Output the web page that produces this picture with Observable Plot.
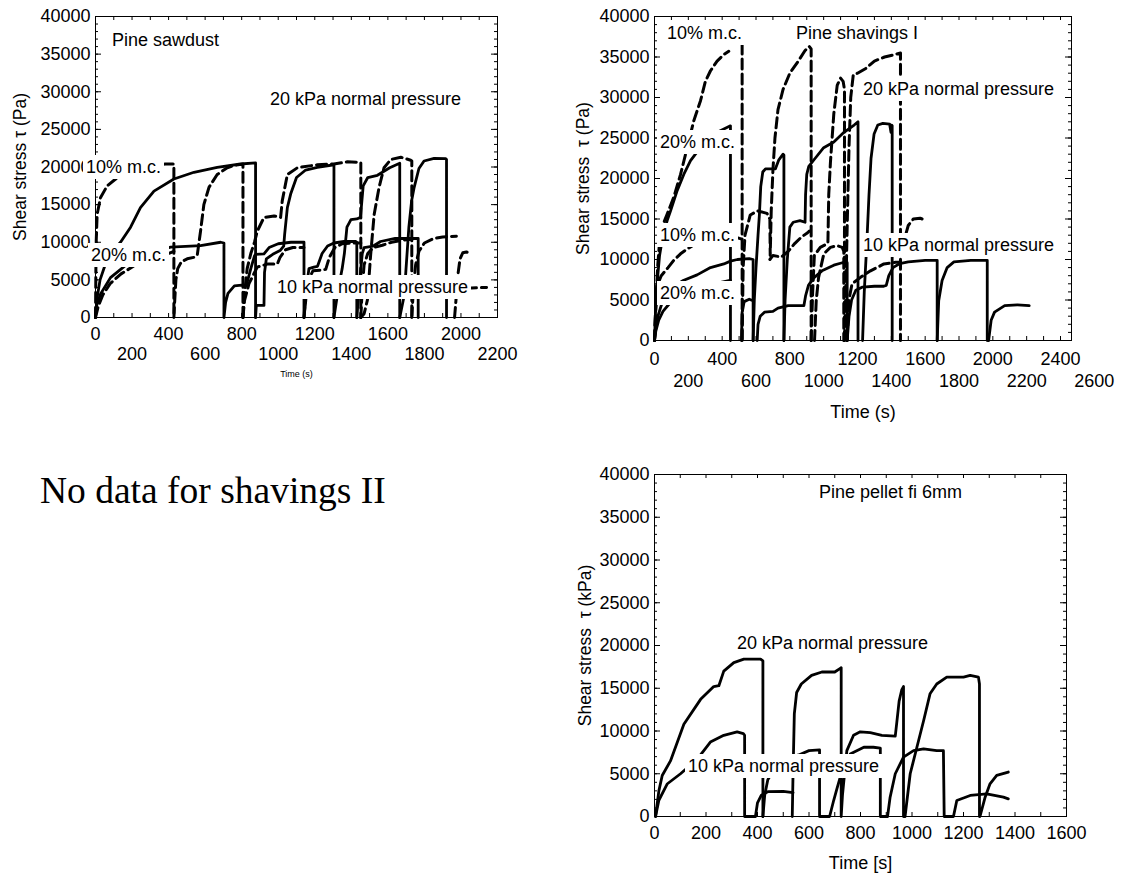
<!DOCTYPE html>
<html><head><meta charset="utf-8">
<script src="https://cdn.jsdelivr.net/npm/d3@7"></script>
<script src="https://cdn.jsdelivr.net/npm/@observablehq/plot@0.6"></script>
<style>
body{margin:0;background:#fff;}
#wrap{position:relative;width:1137px;height:876px;background:#fff;overflow:hidden;font-family:"Liberation Sans",Arial,sans-serif;}
.panel{position:absolute;}
.lab{position:absolute;font-size:18px;line-height:20px;white-space:nowrap;color:#000;transform:translateY(-50%);}
.lab.box{background:#fff;padding:2px 3px;}
.nodata{position:absolute;left:40px;top:490px;transform:translateY(-50%);font-family:"Liberation Serif","Times New Roman",serif;font-size:37.5px;white-space:nowrap;}
</style></head>
<body><div id="wrap"></div>
<script>
// ---------- shared ----------
const yTicks = [0,5000,10000,15000,20000,25000,30000,35000,40000];

// ---------- Panel 1 : Pine sawdust ----------
const p1XRow1 = [0,400,800,1200,1600,2000];
const p1XRow2 = [200,600,1000,1400,1800,2200];
const p1_u1 = [[0,0],[8,2500],[25,5000],[60,7500],[100,9000],[137,10000],[192,12000],[246,14600],[320,16800],[429,18400],[539,19300],[666,19950],[794,20400],[876,20550],[876,0]];
const p1_u2 = [[876,0],[880,1600],[922,1600],[925,6000],[935,7800],[970,8400],[1010,8900],[1030,9500],[1035,11000],[1050,14600],[1068,16400],[1100,18600],[1150,19600],[1214,19950],[1305,20300],[1305,0]];
const p1_u3 = [[1305,0],[1330,4000],[1350,6500],[1362,8500],[1376,12000],[1398,13000],[1430,13100],[1450,13300],[1465,17500],[1490,18600],[1543,18900],[1610,19900],[1665,20500],[1665,0]];
const p1_u4 = [[1665,0],[1690,3000],[1700,6700],[1715,12000],[1730,15500],[1744,17300],[1770,19800],[1798,20800],[1853,21150],[1917,21100],[1921,21000],[1921,0]];
const p1_l1 = [[0,0],[5,1500],[27,3100],[82,5300],[173,7100],[246,8000],[330,8800],[411,9340],[575,9560],[685,10000],[703,9900],[703,0],[712,2000],[725,3200],[760,4200],[800,4300],[825,4200],[850,6500],[870,8200],[876,8400],[922,8450],[950,9300],[1000,9800],[1070,10000],[1141,10000],[1141,0]];
const p1_l2 = [[1141,0],[1150,2000],[1160,5000],[1168,6500],[1195,6700],[1215,6800],[1240,8500],[1270,9500],[1305,9900],[1360,10100],[1425,10100],[1430,10000],[1430,0]];
const p1_l3 = [[1430,0],[1440,3000],[1450,6000],[1460,8500],[1470,9300],[1520,9500],[1560,10100],[1640,10500],[1700,10500],[1766,10500],[1766,0]];
const p1_d1 = [[0,0],[2,6000],[4,10200],[9,13700],[27,15900],[64,17500],[110,18400],[200,19600],[300,20100],[383,20400],[429,20400],[429,0]];
const p1_d2 = [[429,0],[433,2000],[440,5000],[450,6500],[470,7400],[502,7800],[540,8000],[557,8300],[575,11500],[593,15000],[621,17300],[666,19000],[721,19900],[758,20200],[807,20400],[807,0]];
const p1_d3 = [[807,0],[815,3000],[830,6500],[850,8500],[870,10000],[886,11500],[922,13300],[977,13500],[1013,13300],[1022,15500],[1050,19000],[1105,19900],[1214,20300],[1305,20400],[1379,20700],[1452,20600],[1452,0]];
const p1_d4 = [[1452,0],[1470,500],[1488,2300],[1506,8400],[1525,13700],[1552,17300],[1579,19900],[1616,21000],[1671,21300],[1725,20900],[1731,20800],[1731,0]];
const p1_ld1 = [[0,0],[15,1500],[40,3000],[80,4500],[140,5800],[220,7000],[300,7800],[380,8300],[429,8800]];
const p1_ld2 = [[807,0],[815,2200],[840,4500],[885,6700],[940,7100],[995,7100],[1010,8000],[1040,9000],[1080,9300],[1120,9300],[1141,9300]];
const p1_ld3 = [[1141,0],[1150,3000],[1165,5000],[1190,6200],[1230,6300],[1260,6400],[1280,8000],[1310,9300],[1350,9800],[1400,9900],[1452,9900]];
const p1_ld4 = [[1452,0],[1460,4000],[1470,7000],[1490,8500],[1520,9300],[1570,9600],[1620,10000],[1690,10300],[1731,10400]];
const p1_ld5 = [[1731,0],[1740,4000],[1752,7000],[1770,8800],[1800,9900],[1850,10500],[1900,10700],[1975,10800]];
const p1_ld6 = [[1965,0],[1975,3000],[1985,6000],[1995,7800],[2010,8600],[2030,8700],[2054,8500]];
const p1_ld7 = [[2030,3900],[2140,4000]];

// ---------- Panel 2 : Pine shavings I ----------
const p2XRow1 = [0,400,800,1200,1600,2000,2400];
const p2XRow2 = [200,600,1000,1400,1800,2200,2600];
const p2_d1 = [[0,0],[8,5000],[20,9500],[35,13500],[75,15600],[114,17700],[154,20500],[193,23800],[232,27100],[272,29600],[301,32000],[331,33300],[370,34500],[410,35300],[439,35700],[478,null],[518,36600],[518,0]];
const p2_d2 = [[518,0],[524,9000],[535,13000],[566,15500],[610,16000],[665,15700],[682,15000],[684,10500],[690,16000],[700,21000],[712,25000],[730,28500],[760,31000],[800,33000],[850,34500],[890,35800],[915,36300],[926,36000],[926,0]];
const p2_d3 = [[926,0],[935,6000],[945,10500],[980,11500],[1025,12000],[1030,18000],[1040,22000],[1060,28000],[1080,31500],[1100,32400],[1115,32000],[1123,31000],[1123,0]];
const p2_d4 = [[1123,0],[1130,5000],[1140,15000],[1150,24000],[1160,30000],[1175,32800],[1200,33000],[1250,33600],[1300,34500],[1360,35000],[1420,35300],[1454,35500],[1454,0]];
const p2_d5 = [[1465,11500],[1484,13000],[1500,14200],[1530,15000],[1570,15100],[1582,15000]];
const p2_ld1 = [[0,0],[10,5000],[20,7000],[40,8000],[80,9000],[114,9900],[154,10700],[193,11300],[232,11800],[330,12500],[440,13000],[518,12500]];
const p2_ld2 = [[682,10000],[700,10500],[750,10300],[790,11000],[830,12000],[870,12800],[905,13300],[915,13500]];
const p2_ld3 = [[946,0],[956,4900],[970,7800],[1001,10700],[1040,11500],[1080,11700],[1110,11500],[1119,11000],[1119,0]];
const p2_ld4 = [[1139,0],[1148,4900],[1168,7000],[1218,7800],[1277,8600],[1356,9450],[1425,9650],[1454,9650]];
const p2_s1 = [[0,0],[5,3000],[15,7000],[30,10500],[50,13000],[75,14800],[95,16000],[134,18500],[173,20500],[213,22200],[242,23000],[300,24500],[380,25800],[449,26500],[449,0]];
const p2_s2 = [[583,0],[590,5000],[600,9000],[612,13000],[620,15500],[628,19000],[640,20800],[656,21200],[715,21200],[735,22300],[760,23000],[765,22900],[765,0]];
const p2_s3 = [[765,0],[772,5000],[785,10000],[800,14000],[820,14600],[860,14800],[890,14600],[893,18000],[900,20500],[912,21500],[950,22500],[1000,23800],[1060,24500],[1120,25700],[1180,26600],[1203,27000],[1203,0]];
const p2_s4 = [[1230,0],[1240,6000],[1255,12000],[1268,18000],[1280,22500],[1298,25500],[1320,26600],[1350,26800],[1390,26700],[1398,25700],[1402,26600],[1405,26500],[1405,0]];
const p2_l1 = [[0,0],[8,1500],[20,3000],[50,5000],[100,6500],[170,7400],[252,8100],[331,9000],[410,9450],[449,9800],[490,10000],[560,10100],[583,10000],[583,0]];
const p2_l2 = [[0,0],[8,1200],[25,2500],[50,3600],[90,4600],[150,5400],[250,6300],[350,7000],[440,7400],[449,7400]];
const p2_l3 = [[514,0],[518,3500],[530,4800],[560,5100],[583,4900]];
const p2_l4 = [[607,0],[612,2000],[625,3000],[650,3500],[700,3600],[730,4000],[790,4300],[840,4300],[883,4300],[893,5500],[910,6800],[940,7700],[990,8600],[1060,9300],[1110,9600],[1139,9600],[1139,0]];
const p2_l5 = [[1139,0],[1150,3000],[1165,5000],[1190,6200],[1230,6600],[1300,6700],[1355,6700],[1370,6800],[1385,8000],[1410,9000],[1450,9500],[1500,9700],[1600,9900],[1671,9900],[1671,0]];
const p2_l6 = [[1671,0],[1680,4900],[1700,7400],[1730,9000],[1770,9700],[1870,9900],[1967,9900],[1967,0]];
const p2_l7 = [[1975,0],[1990,2500],[2010,3500],[2070,4300],[2145,4400],[2215,4300]];

// ---------- Panel 3 : Pine pellet ----------
const p3XRow1 = [0,200,400,600,800,1000,1200,1400,1600];
const p3_a = [[4,0],[17,3000],[30,4800],[62,6500],[114,10800],[179,13700],[230,15200],[250,15300],[269,17000],[308,18000],[347,18400],[412,18400],[421,18200],[421,0]];
const p3_b = [[4,0],[17,1900],[49,3800],[101,5000],[166,6700],[217,8700],[269,9500],[321,9900],[345,9700],[350,9500],[350,0],[392,0],[400,1600],[415,2500],[440,2900],[500,2950],[538,2800]];
const p3_c = [[421,0],[428,2500],[440,4300],[470,5800],[520,6800],[560,7200],[600,7700],[641,7800],[641,0],[680,0],[696,1900],[708,3200],[730,5500],[760,7300],[813,8100],[850,8100],[877,8000],[877,0],[905,0],[915,2260],[935,5000],[967,6950],[1006,7700],[1045,7900],[1096,7700],[1122,7700],[1125,0],[1161,0],[1174,1870],[1226,2460],[1290,2650],[1355,2260],[1374,2070]];
const p3_d = [[535,0],[538,5000],[543,12000],[552,14500],[570,15500],[610,16500],[650,16900],[700,16900],[720,17300],[725,17400],[725,0],[730,2500],[738,5000],[747,7700],[773,9500],[799,9900],[838,9800],[883,9500],[935,9400],[941,11000],[950,13500],[960,14800],[967,15200],[967,0],[973,0],[993,5000],[1019,8100],[1045,11200],[1070,14350],[1096,15500],[1135,16300],[1200,16300],[1226,16500],[1258,16300],[1262,15500],[1262,0],[1264,0],[1284,2260],[1303,3820],[1329,4800],[1374,5200]];

// ---------- series lists ----------
const p1Series = [
  {id:"u1",pts:p1_u1,dashed:false},{id:"u2",pts:p1_u2,dashed:false},{id:"u3",pts:p1_u3,dashed:false},{id:"u4",pts:p1_u4,dashed:false},
  {id:"l1",pts:p1_l1,dashed:false},{id:"l2",pts:p1_l2,dashed:false},{id:"l3",pts:p1_l3,dashed:false},
  {id:"d1",pts:p1_d1,dashed:true},{id:"d2",pts:p1_d2,dashed:true},{id:"d3",pts:p1_d3,dashed:true},{id:"d4",pts:p1_d4,dashed:true},
  {id:"ld1",pts:p1_ld1,dashed:true},{id:"ld2",pts:p1_ld2,dashed:true},{id:"ld3",pts:p1_ld3,dashed:true},{id:"ld4",pts:p1_ld4,dashed:true},
  {id:"ld5",pts:p1_ld5,dashed:true},{id:"ld6",pts:p1_ld6,dashed:true},{id:"ld7",pts:p1_ld7,dashed:true}
];
const p2Series = [
  {id:"d1",pts:p2_d1,dashed:true},{id:"d2",pts:p2_d2,dashed:true},{id:"d3",pts:p2_d3,dashed:true},{id:"d4",pts:p2_d4,dashed:true},{id:"d5",pts:p2_d5,dashed:true},
  {id:"ld1",pts:p2_ld1,dashed:true},{id:"ld2",pts:p2_ld2,dashed:true},{id:"ld3",pts:p2_ld3,dashed:true},{id:"ld4",pts:p2_ld4,dashed:true},
  {id:"s1",pts:p2_s1,dashed:false},{id:"s2",pts:p2_s2,dashed:false},{id:"s3",pts:p2_s3,dashed:false},{id:"s4",pts:p2_s4,dashed:false},
  {id:"l1",pts:p2_l1,dashed:false},{id:"l2",pts:p2_l2,dashed:false},{id:"l3",pts:p2_l3,dashed:false},{id:"l4",pts:p2_l4,dashed:false},
  {id:"l5",pts:p2_l5,dashed:false},{id:"l6",pts:p2_l6,dashed:false},{id:"l7",pts:p2_l7,dashed:false}
];
const p3Series = [
  {id:"a",pts:p3_a,dashed:false},{id:"b",pts:p3_b,dashed:false},{id:"c",pts:p3_c,dashed:false},{id:"d",pts:p3_d,dashed:false}
];

// ---------- labels ----------
const p1Labels = [
  {text:"Pine sawdust", x:112, y:40, box:false},
  {text:"20 kPa normal pressure", x:267, y:99, box:true},
  {text:"10% m.c.", x:83, y:167, box:true},
  {text:"20% m.c.", x:88, y:255, box:true},
  {text:"10 kPa normal pressure", x:274, y:287, box:true}
];
const p2Labels = [
  {text:"10% m.c.", x:664, y:33, box:true},
  {text:"Pine shavings I", x:793, y:33, box:true},
  {text:"20 kPa normal pressure", x:860, y:89, box:true},
  {text:"20% m.c.", x:657, y:142, box:true},
  {text:"10% m.c.", x:657, y:235, box:true},
  {text:"10 kPa normal pressure", x:860, y:245, box:true},
  {text:"20% m.c.", x:657, y:293, box:true}
];
const p3Labels = [
  {text:"Pine pellet fi 6mm", x:819, y:492, box:false},
  {text:"20 kPa normal pressure", x:737, y:643, box:false},
  {text:"10 kPa normal pressure", x:685, y:766, box:true}
];

// ---------- builder ----------
function toRows(series){
  return series.flatMap(s => s.pts.map(([t,v]) => ({id:s.id, t, v: v==null? NaN : v, dashed:s.dashed})));
}
function range(a,b,s){const r=[];for(let v=a;v<=b+1e-9;v+=s)r.push(v);return r;}

function makePanel(cfg){
  const [mt,mr,mb,ml] = cfg.margins;
  const pw = cfg.width-ml-mr, ph = cfg.height-mt-mb;
  const rows = toRows(cfg.series);
  const xMinor = range(0, cfg.xDomain[1], 100);
  const yMinor = range(0, 40000, 1000);
  const fmt = d => String(d);
  const marks = [
    Plot.tickX(xMinor, {x:d=>d, insetTop: ph-4, strokeWidth:1}),
    Plot.tickX(xMinor, {x:d=>d, insetBottom: ph-4, strokeWidth:1}),
    Plot.tickY(yMinor, {y:d=>d, insetRight: pw-3, strokeWidth:1}),
    Plot.tickY(yMinor, {y:d=>d, insetLeft: pw-3, strokeWidth:1}),
    Plot.tickY(yTicks, {y:d=>d, insetRight: pw-6, strokeWidth:1}),
    Plot.tickY(yTicks, {y:d=>d, insetLeft: pw-6, strokeWidth:1}),
    Plot.line(rows.filter(r=>!r.dashed), {x:"t", y:"v", z:"id", stroke:"black", strokeWidth:2.8, strokeLinejoin:"round"}),
    Plot.line(rows.filter(r=>r.dashed), {x:"t", y:"v", z:"id", stroke:"black", strokeWidth:3, strokeDasharray:"10,5"}),
    Plot.frame({stroke:"black"}),
    Plot.axisY({ticks:yTicks, tickSize:0, tickPadding:5, tickFormat:fmt, label:null, fontSize:18}),
    Plot.axisX({ticks:cfg.xRow1, tickSize:0, tickPadding:cfg.pad1, tickFormat:fmt, label:null, fontSize:18}),
    Plot.text([cfg.xLabel], {text:d=>d, frameAnchor:"bottom", textAnchor:"middle", lineAnchor:"middle", dy:cfg.xLabelDy, fontSize:cfg.xLabelSize}),
    Plot.text([cfg.yLabel], {text:d=>d, frameAnchor:"left", textAnchor:"middle", lineAnchor:"middle", rotate:-90, dx:-(ml-cfg.yLabelX), fontSize:17.5})
  ];
  if (cfg.xRow2) marks.splice(11, 0, Plot.axisX({ticks:cfg.xRow2, tickSize:0, tickPadding:cfg.pad2, tickFormat:fmt, label:null, fontSize:18}));
  const svg = Plot.plot({
    width: cfg.width, height: cfg.height,
    marginTop: mt, marginRight: mr, marginBottom: mb, marginLeft: ml,
    x: {domain: cfg.xDomain},
    y: {domain: [0,40000]},
    style: {fontFamily:'"Liberation Sans", Arial, sans-serif', fontSize:"18px", color:"black", background:"white", overflow:"visible"},
    marks
  });
  const holder = document.createElement("div");
  holder.className = "panel";
  holder.style.left = cfg.left+"px"; holder.style.top = cfg.top+"px";
  holder.appendChild(svg);
  return holder;
}

const wrap = document.getElementById("wrap");
wrap.appendChild(makePanel({
  series:p1Series, xDomain:[0,2200], xRow1:p1XRow1, xRow2:p1XRow2, pad1:10, pad2:30,
  left:0, top:0, width:540, height:400, margins:[16,43,83,95],
  xLabel:"Time (s)", xLabelDy:57, xLabelSize:9, yLabel:"Shear stress τ (Pa)", yLabelX:20
}));
wrap.appendChild(makePanel({
  series:p2Series, xDomain:[0,2465], xRow1:p2XRow1, xRow2:p2XRow2, pad1:12, pad2:34,
  left:570, top:0, width:567, height:430, margins:[16,66,90,84],
  xLabel:"Time (s)", xLabelDy:72, xLabelSize:18, yLabel:"Shear stress  τ (Pa)", yLabelX:13
}));
wrap.appendChild(makePanel({
  series:p3Series, xDomain:[0,1600], xRow1:p3XRow1, xRow2:null, pad1:10,
  left:570, top:430, width:567, height:446, margins:[44,71,60,84],
  xLabel:"Time [s]", xLabelDy:47, xLabelSize:18, yLabel:"Shear stress  τ (kPa)", yLabelX:15
}));

for (const l of [...p1Labels, ...p2Labels, ...p3Labels]) {
  const d = document.createElement("div");
  d.className = "lab" + (l.box ? " box" : "");
  d.style.left = l.x+"px"; d.style.top = l.y+"px";
  d.textContent = l.text;
  wrap.appendChild(d);
}
const nd = document.createElement("div");
nd.className = "nodata"; nd.textContent = "No data for shavings II";
wrap.appendChild(nd);
</script></body></html>
